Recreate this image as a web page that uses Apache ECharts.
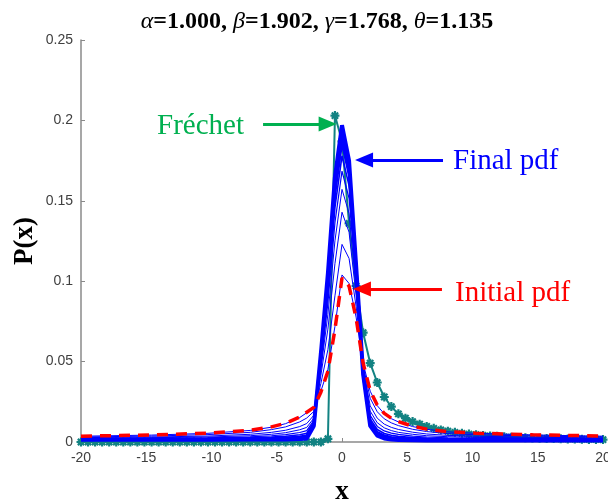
<!DOCTYPE html>
<html><head><meta charset="utf-8">
<script src="https://cdn.jsdelivr.net/npm/echarts@6/dist/echarts.min.js"></script>
<style>html,body{margin:0;padding:0;background:#fff}#c{width:608px;height:502px}</style>
</head><body><div id="c"></div>
<script>
// ---- data ----
const xGrid = [-20, -14.59, -10.27, -7.03, -5.41, -4.32, -3.24, -2.70, -2.16, -1.62, -1.08, -0.54, 0, 0.54, 1.08, 1.62, 2.16, 2.70, 3.24, 3.78, 4.32, 5.41, 6.49, 8.11, 10.27, 14.59, 20];
const initialPdf = [0.0036,0.0044,0.0055,0.0073,0.0094,0.0116,0.0155,0.0185,0.0215,0.0310,0.0440,0.0700,0.1020,0.0970,0.0770,0.0490,0.0320,0.0230,0.0178,0.0148,0.0127,0.0098,0.0080,0.0064,0.0055,0.0045,0.0037];
const iter1 = [0.0036,0.0043,0.0054,0.0072,0.0092,0.0114,0.0152,0.0182,0.0213,0.0315,0.0452,0.0719,0.1039,0.0986,0.0777,0.0489,0.0316,0.0226,0.0175,0.0145,0.0125,0.0096,0.0079,0.0063,0.0054,0.0044,0.0036];
const iter2 = [0.0031,0.0037,0.0046,0.0060,0.0077,0.0094,0.0125,0.0149,0.0190,0.0363,0.0574,0.0909,0.1229,0.1142,0.0843,0.0475,0.0272,0.0188,0.0144,0.0119,0.0102,0.0079,0.0065,0.0052,0.0045,0.0037,0.0031];
const iter3 = [0.0027,0.0031,0.0037,0.0048,0.0060,0.0073,0.0096,0.0115,0.0166,0.0413,0.0702,0.1109,0.1429,0.1305,0.0912,0.0460,0.0225,0.0148,0.0111,0.0091,0.0078,0.0061,0.0050,0.0041,0.0036,0.0030,0.0025];
const iter4 = [0.0023,0.0027,0.0031,0.0039,0.0048,0.0058,0.0076,0.0091,0.0148,0.0449,0.0794,0.1251,0.1571,0.1422,0.0961,0.0449,0.0192,0.0120,0.0088,0.0071,0.0060,0.0048,0.0039,0.0033,0.0029,0.0025,0.0021];
const iter5 = [0.0021,0.0023,0.0026,0.0032,0.0039,0.0046,0.0059,0.0071,0.0135,0.0478,0.0867,0.1365,0.1685,0.1516,0.1001,0.0441,0.0166,0.0097,0.0069,0.0055,0.0047,0.0037,0.0031,0.0026,0.0024,0.0021,0.0018];
const iter6 = [0.0018,0.0020,0.0022,0.0027,0.0031,0.0036,0.0045,0.0055,0.0123,0.0502,0.0928,0.1460,0.1780,0.1594,0.1034,0.0434,0.0144,0.0078,0.0053,0.0042,0.0035,0.0028,0.0024,0.0021,0.0019,0.0017,0.0015];
const iter7 = [0.0017,0.0018,0.0019,0.0022,0.0025,0.0028,0.0034,0.0042,0.0114,0.0521,0.0977,0.1536,0.1856,0.1656,0.1060,0.0428,0.0126,0.0063,0.0041,0.0031,0.0026,0.0021,0.0018,0.0016,0.0015,0.0014,0.0013];
const iter8 = [0.0015,0.0016,0.0017,0.0018,0.0020,0.0022,0.0026,0.0032,0.0107,0.0536,0.1013,0.1593,0.1913,0.1703,0.1080,0.0424,0.0113,0.0051,0.0031,0.0023,0.0019,0.0016,0.0014,0.0013,0.0013,0.0012,0.0012];
const finalPdf = [0.0014,0.0014,0.0014,0.0015,0.0015,0.0016,0.0018,0.0022,0.0100,0.0550,0.1050,0.1650,0.1970,0.1750,0.1100,0.0420,0.0100,0.0040,0.0022,0.0015,0.0012,0.0011,0.0010,0.0010,0.0010,0.0010,0.0010];

const frechetX = [-20.00,-19.46,-18.92,-18.38,-17.84,-17.30,-16.76,-16.22,-15.68,-15.14,
 -14.59,-14.05,-13.51,-12.97,-12.43,-11.89,-11.35,-10.81,-10.27,-9.73,
 -9.19,-8.65,-8.11,-7.57,-7.03,-6.49,-5.95,-5.41,-4.86,-4.32,
 -3.78,-3.24,-2.70,-2.16,-1.62,-1.08,-0.54,0.00,0.54,1.08,
 1.62,2.16,2.70,3.24,3.78,4.32,4.86,5.41,5.95,6.49,
 7.03,7.57,8.11,8.65,9.19,9.73,10.27,10.81,11.35,11.89,
 12.43,12.97,13.51,14.05,14.59,15.14,15.68,16.22,16.76,17.30,
 17.84,18.38,18.92,19.46,20.00];
const frechetY = [0,0,0,0,0,0,0,0,0,0,
 0,0,0,0,0,0,0,0,0,0,
 0,0,0,0,0,0,0,0,0,0,
 0,0,0,0,0,0.002,0.203,0.187,0.136,0.097,
 0.068,0.049,0.037,0.028,0.022,0.0175,0.0148,0.0127,0.0111,0.0097,
 0.0085,0.0075,0.0067,0.0060,0.0054,0.0049,0.0045,0.0041,0.0038,0.0035,
 0.0032,0.0030,0.0028,0.0026,0.0025,0.0023,0.0022,0.0021,0.0020,0.0019,
 0.0018,0.0017,0.0016,0.0016,0.0015];

const xTicks = [-20, -15, -10, -5, 0, 5, 10, 15, 20];
const yTicks = [0, 0.05, 0.1, 0.15, 0.2, 0.25];

// ---- chart ----
const pairs = (xs, ys) => xs.map((x, i) => [x, ys[i]]);
const blueCurves = [iter1, iter2, iter3, iter4, iter5, iter6, iter7, iter8, finalPdf];
const blueWidths = [1, 1, 1, 1, 1.2, 1.6, 2.2, 3, 4];
const teal = '#128282';

const series = [];
series.push({
  type: 'line', data: pairs(frechetX, frechetY),
  symbol: 'path://M5,0L5,10M0,5L10,5M1.5,1.5L8.5,8.5M1.5,8.5L8.5,1.5',
  symbolSize: 9, showSymbol: true,
  lineStyle: { color: teal, width: 2 },
  itemStyle: { color: teal, borderColor: teal, borderWidth: 2.2 },
  z: 2
});
blueCurves.forEach((c, i) => series.push({
  type: 'line', data: pairs(xGrid, c), showSymbol: false, symbol: 'none',
  lineStyle: { color: '#0000FF', width: blueWidths[i] }, z: 3
}));
const solid = (col) => ({ color: col, width: 3, type: 'solid' });
series.push({
  type: 'line', data: pairs(xGrid, initialPdf), showSymbol: false, symbol: 'none',
  lineStyle: { color: '#FF0000', width: 3.5, type: [11, 8] }, z: 4,
  markLine: {
    silent: true, animation: false,
    symbol: ['none', 'triangle'], symbolSize: [15, 18],
    label: { show: false },
    data: [
      [{ coord: [-6.05, 0.1978], lineStyle: solid('#00B050'), itemStyle: { color: '#00B050' } }, { coord: [-1.1, 0.1978] }],
      [{ coord: [7.74, 0.1754], lineStyle: solid('#0000FF'), itemStyle: { color: '#0000FF' } }, { coord: [1.69, 0.1754] }],
      [{ coord: [7.66, 0.0951], lineStyle: solid('#FF0000'), itemStyle: { color: '#FF0000' } }, { coord: [1.53, 0.0951] }]
    ]
  }
});

const greek = { fontFamily: 'Liberation Serif', fontStyle: 'italic', fontWeight: 'normal', fontSize: 24, color: '#000' };
const num = { fontFamily: 'Liberation Serif', fontWeight: 'bold', fontSize: 24, color: '#000' };

const option = {
  animation: false,
  backgroundColor: '#fff',
  title: {
    text: '{g|α}{n|=1.000, }{g|β}{n|=1.902, }{g|γ}{n|=1.768, }{g|θ}{n|=1.135}',
    left: 312, top: 5, textAlign: 'center',
    textStyle: { rich: { g: greek, n: num } }
  },
  grid: { left: 81, right: 5, top: 40, bottom: 60, containLabel: false, outerBoundsMode: 'none' },
  xAxis: {
    type: 'value', min: -20, max: 20, interval: 5,
    name: 'x', nameLocation: 'middle', nameGap: 37, nameMoveOverlap: false,
    nameTextStyle: { fontFamily: 'Liberation Serif', fontWeight: 'bold', fontSize: 27, color: '#000' },
    axisLine: { show: true, onZero: false, lineStyle: { color: '#8a8a8a', width: 1.5 } },
    axisTick: { show: true, inside: true, length: 4, lineStyle: { color: '#8a8a8a' } },
    axisLabel: { fontFamily: 'Liberation Sans', fontSize: 14, color: '#404040', margin: 9,
      formatter: v => xTicks.includes(v) ? String(v) : '' },
    splitLine: { show: false }
  },
  yAxis: {
    type: 'value', min: 0, max: 0.25, interval: 0.05,
    name: 'P(x)', nameLocation: 'middle', nameGap: 42, nameMoveOverlap: false,
    nameTextStyle: { fontFamily: 'Liberation Serif', fontWeight: 'bold', fontSize: 27, color: '#000' },
    axisLine: { show: true, onZero: false, lineStyle: { color: '#8a8a8a', width: 1.5 } },
    axisTick: { show: true, inside: true, length: 4, lineStyle: { color: '#8a8a8a' } },
    axisLabel: { fontFamily: 'Liberation Sans', fontSize: 14, color: '#404040', margin: 8,
      formatter: v => { const t = yTicks.find(k => Math.abs(k - v) < 1e-9); return t === undefined ? '' : String(t); } },
    splitLine: { show: false }
  },
  graphic: [
    { type: 'text', x: 157, y: 126, style: { text: 'Fréchet', fill: '#00B050', font: '29px "Liberation Serif"', align: 'left', verticalAlign: 'middle' } },
    { type: 'text', x: 453, y: 161, style: { text: 'Final pdf', fill: '#0000FF', font: '29px "Liberation Serif"', align: 'left', verticalAlign: 'middle' } },
    { type: 'text', x: 455, y: 293, style: { text: 'Initial pdf', fill: '#FF0000', font: '29px "Liberation Serif"', align: 'left', verticalAlign: 'middle' } }
  ],
  series: series
};
const chart = echarts.init(document.getElementById('c'));
chart.setOption(option);
</script>
</body></html>
